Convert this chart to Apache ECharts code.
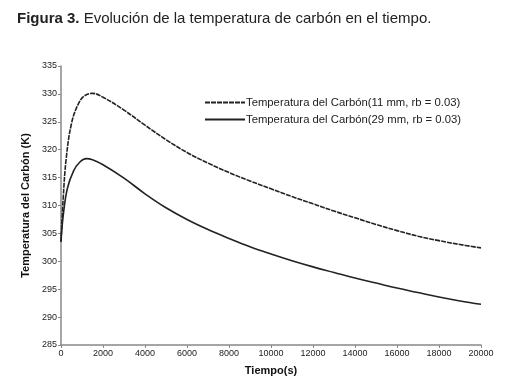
<!DOCTYPE html>
<html>
<head>
<meta charset="utf-8">
<script src="https://cdn.jsdelivr.net/npm/echarts@6/dist/echarts.min.js"></script>
<style>
  html, body { margin: 0; padding: 0; background: #fff; }
  #chart { width: 509px; height: 387px; }
</style>
</head>
<body>
<div id="chart"></div>
<script>
  // tiempo (s), temperatura (K)
  var serieNames = [
    'Temperatura del Carbón(11 mm, rb = 0.03)',
    'Temperatura del Carbón(29 mm, rb = 0.03)'
  ]
  var temp11 = [
    [0, 303.5], [100, 311], [250, 318.5], [500, 324.7], [800, 328], [1100, 329.6],
    [1500, 330.1], [2000, 329.4], [3000, 327.1], [4000, 324.4], [5000, 321.8],
    [6000, 319.5], [7000, 317.6], [8000, 315.9], [9000, 314.4], [10000, 313.0],
    [11000, 311.6], [12000, 310.3], [13000, 309.0], [14000, 307.8], [15000, 306.6],
    [16000, 305.5], [17000, 304.5], [18000, 303.7], [19000, 303.0], [20000, 302.4]
  ]
  var temp29 = [
    [0, 303.5], [100, 308], [300, 313], [600, 316.2], [900, 317.8], [1200, 318.4],
    [1500, 318.2], [2000, 317.3], [3000, 314.9], [4000, 312.1], [5000, 309.6],
    [6000, 307.5], [7000, 305.7], [8000, 304.1], [9000, 302.6], [10000, 301.3],
    [11000, 300.1], [12000, 299.0], [13000, 298.0], [14000, 297.0], [15000, 296.1],
    [16000, 295.2], [17000, 294.4], [18000, 293.6], [19000, 292.9], [20000, 292.3]
  ]

  var chart = echarts.init(document.getElementById('chart'))
  var narrow = '"Liberation Sans Narrow", "Liberation Sans", Arial, sans-serif'
  chart.setOption({
    animation: false,
    textStyle: { fontFamily: 'Arial, "Liberation Sans", sans-serif' },
    title: {
      left: 12,
      top: 6,
      text: '{b|Figura 3.} Evolución de la temperatura de carbón en el tiempo.',
      textStyle: {
        fontFamily: narrow,
        fontSize: 15,
        fontWeight: 'normal',
        color: '#222',
        rich: {
          b: { fontFamily: narrow, fontSize: 15, fontWeight: 'bold', color: '#222' }
        }
      }
    },
    legend: {
      orient: 'vertical',
      left: 199,
      top: 92,
      itemWidth: 40,
      itemHeight: 8,
      itemGap: 6,
      itemStyle: { opacity: 0 },
      textStyle: { fontSize: 11.3, color: '#222', padding: [0, 0, 0, -4] },
      data: serieNames
    },
    grid: {
      left: 61,
      right: 28,
      top: 66,
      bottom: 42
    },
    xAxis: {
      type: 'value',
      min: 0,
      max: 20000,
      interval: 2000,
      name: 'Tiempo(s)',
      nameLocation: 'middle',
      nameGap: 20,
      nameTextStyle: { fontSize: 11, fontWeight: 'bold', color: '#111' },
      axisLine: { lineStyle: { color: '#888', width: 1.5 } },
      axisTick: { length: 3, lineStyle: { color: '#888' } },
      axisLabel: { fontSize: 9, color: '#222', margin: 4, formatter: function (v) { return String(v) } },
      splitLine: { show: false }
    },
    yAxis: {
      type: 'value',
      min: 285,
      max: 335,
      interval: 5,
      name: 'Temperatura del Carbón (K)',
      nameLocation: 'middle',
      nameGap: 27,
      nameTextStyle: { fontSize: 11, fontWeight: 'bold', color: '#111' },
      axisLine: { show: true, lineStyle: { color: '#888', width: 1.5 } },
      axisTick: { show: true, length: 3, lineStyle: { color: '#888' } },
      axisLabel: { fontSize: 9, color: '#222', margin: 4 },
      splitLine: { show: false }
    },
    series: [
      {
        name: serieNames[0],
        type: 'line',
        smooth: 0.4,
        symbol: 'none',
        data: temp11,
        lineStyle: { color: '#222', width: 1.6, type: [5, 1] },
        itemStyle: { color: '#222' }
      },
      {
        name: serieNames[1],
        type: 'line',
        smooth: 0.4,
        symbol: 'none',
        data: temp29,
        lineStyle: { color: '#222', width: 1.6 },
        itemStyle: { color: '#222' }
      }
    ]
  })
</script>
</body>
</html>
